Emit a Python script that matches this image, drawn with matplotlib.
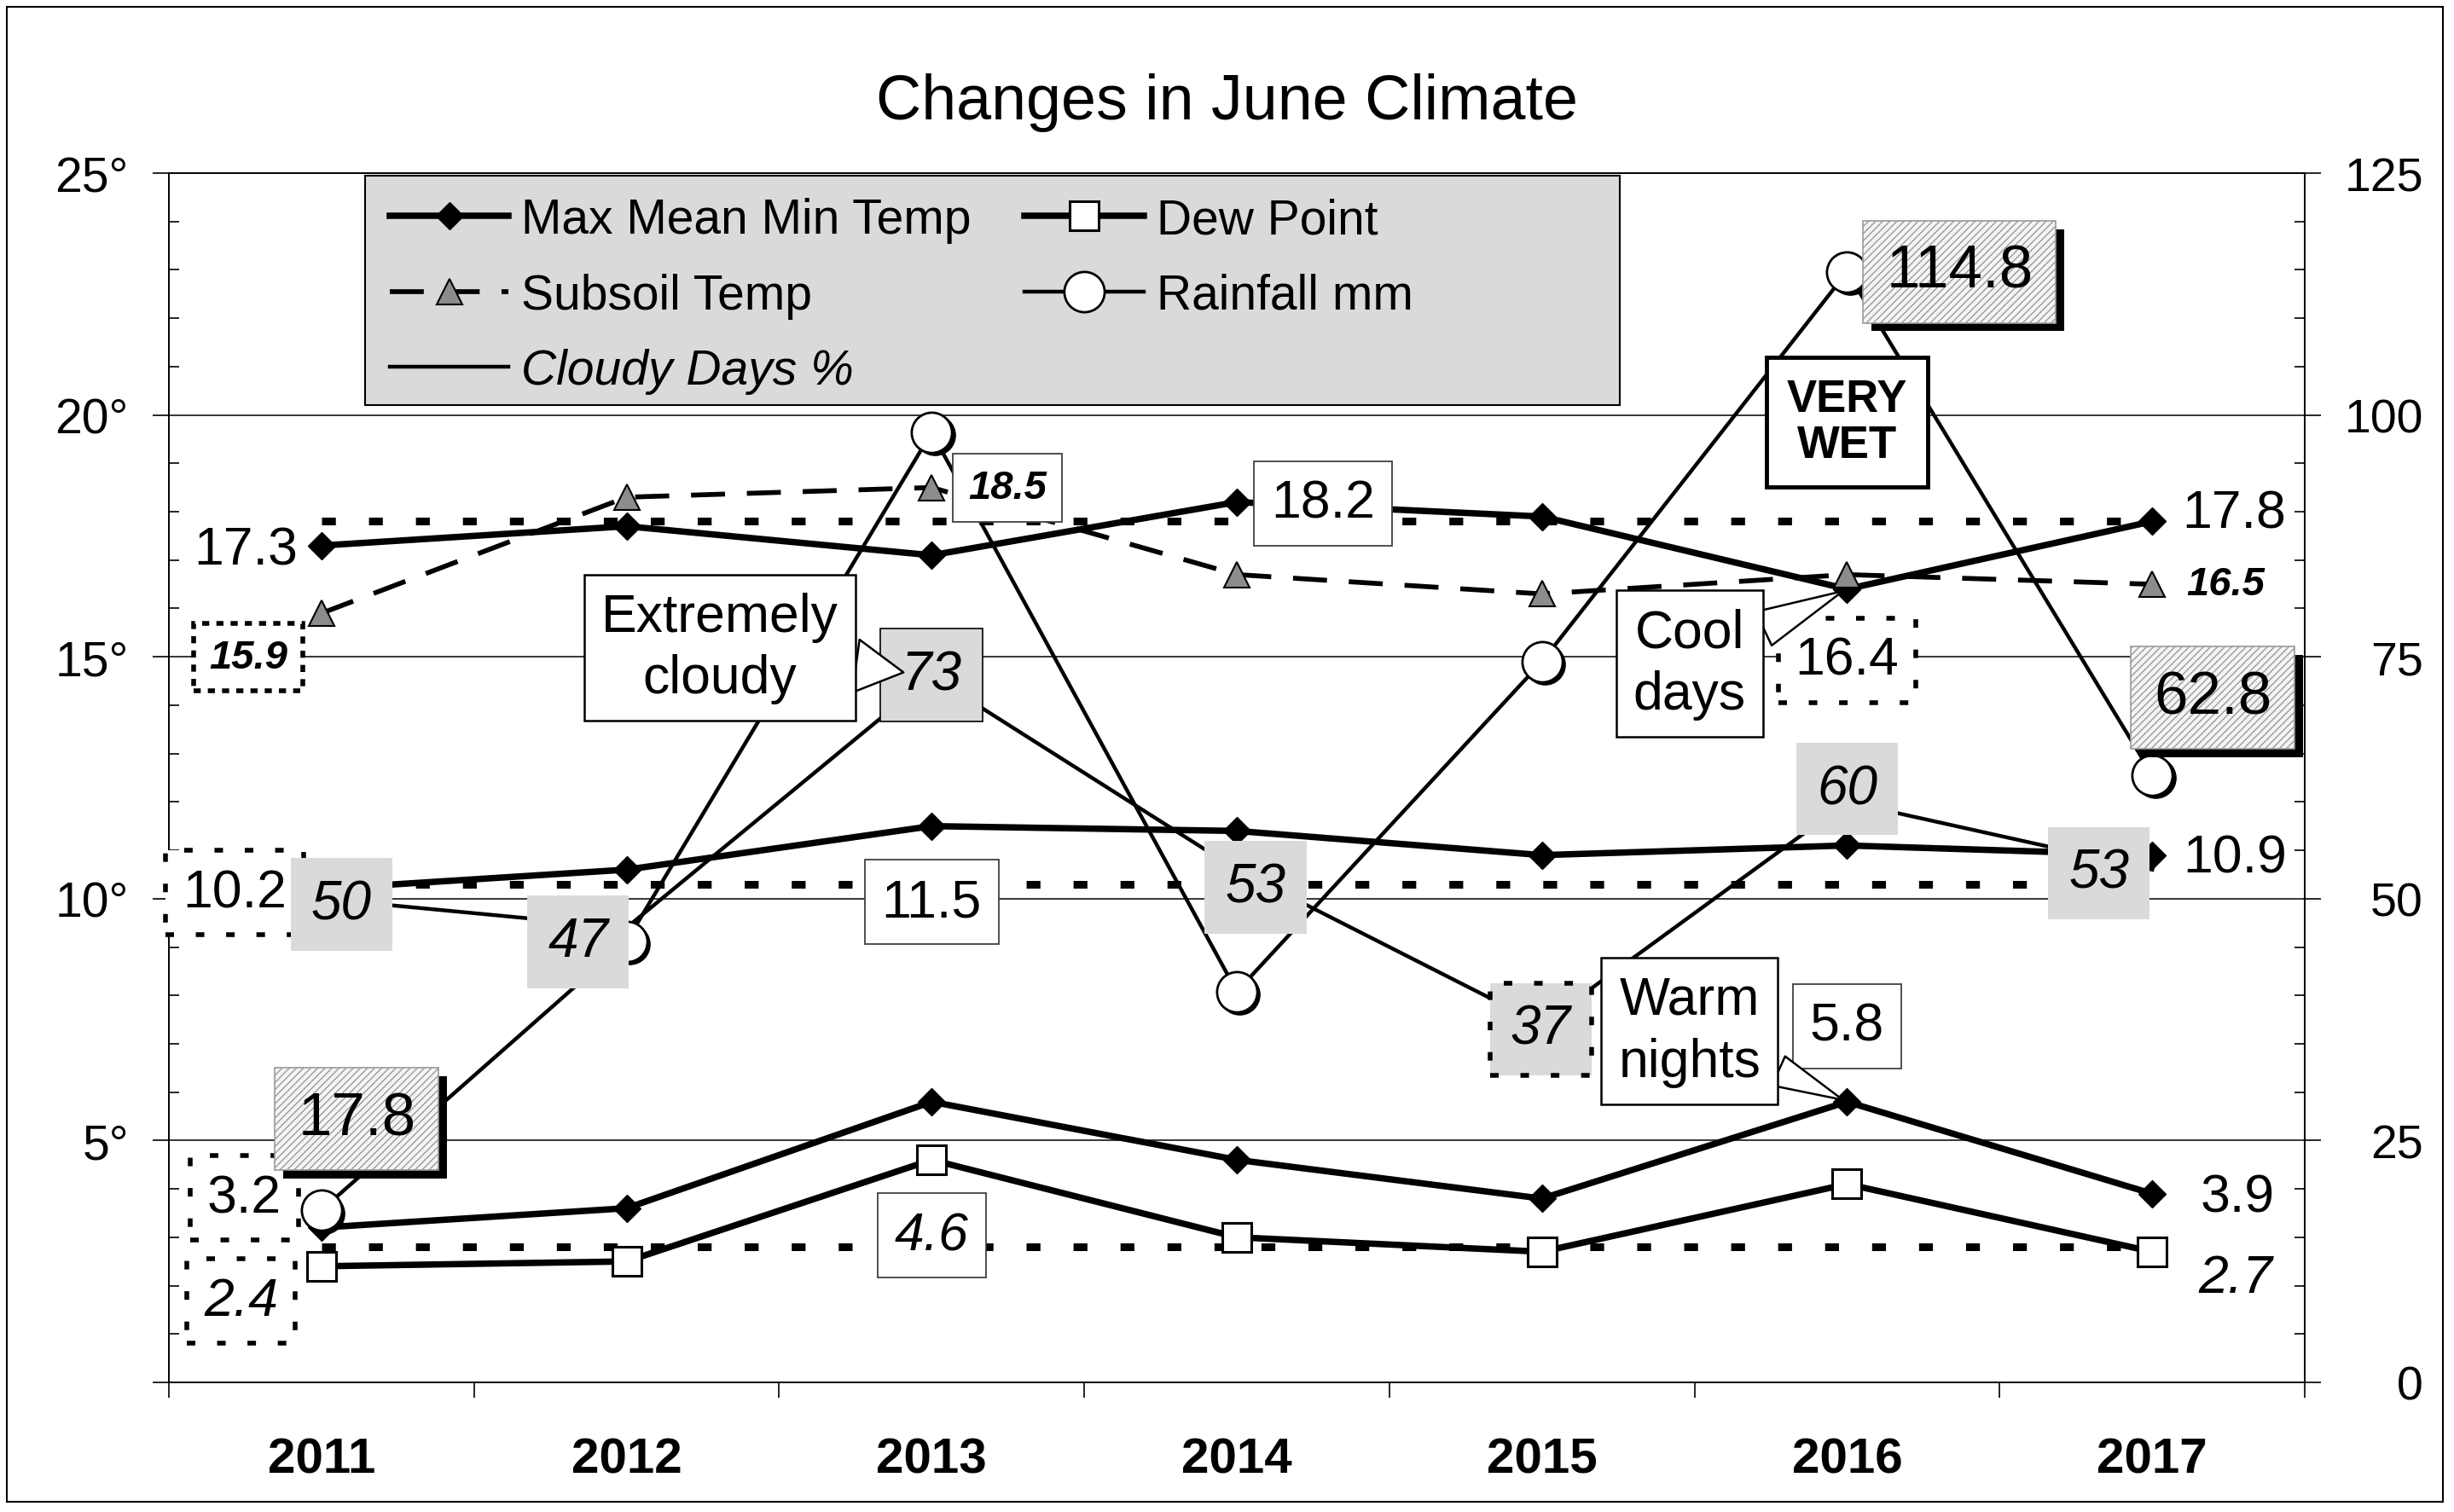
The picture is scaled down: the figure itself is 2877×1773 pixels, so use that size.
import numpy as np
import matplotlib.pyplot as plt
import matplotlib.patheffects as pe
from matplotlib.patches import Rectangle
from matplotlib.ticker import MultipleLocator
from matplotlib.transforms import ScaledTranslation

plt.rcParams['font.family'] = ['Liberation Sans', 'DejaVu Sans']

years = ['2011', '2012', '2013', '2014', '2015', '2016', '2017']
max_temp = [17.3, 17.7, 17.1, 18.2, 17.9, 16.4, 17.8]
mean_temp = [10.2, 10.6, 11.5, 11.4, 10.9, 11.1, 10.9]
min_temp = [3.2, 3.6, 5.8, 4.6, 3.8, 5.8, 3.9]
dew_point = [2.4, 2.5, 4.6, 3.0, 2.7, 4.1, 2.7]
subsoil_temp = [15.9, 18.3, 18.5, 16.7, 16.3, 16.7, 16.5]
rainfall = [17.8, 45.6, 98.2, 40.4, 74.5, 114.8, 62.8]
cloudy_days = [50, 47, 73, 53, 37, 60, 53]

# long term June averages, drawn as dotted lines
normal_max = 17.8
normal_mean = 10.3
normal_dew = 2.8

temp_ticks = [0, 5, 10, 15, 20, 25]
temp_tick_labels = ['', '5°', '10°', '15°', '20°', '25°']
rain_ticks = [0, 25, 50, 75, 100, 125]
rain_tick_labels = ['0', '25', '50', '75', '100', '125']

legend_labels = ['Max Mean Min Temp', 'Subsoil Temp', 'Cloudy Days %', 'Dew Point', 'Rainfall mm']

fig = plt.figure(figsize=(28.77, 17.74), dpi=100)
ax = fig.add_axes([0.0688, 0.0857, 0.9392 - 0.0688, 0.885 - 0.0857])
ax2 = ax.twinx()
x = np.arange(len(years))

# temperature series (left axis)
for vals in (normal_max, normal_mean, normal_dew):
    ax.plot(x, [vals] * len(x), color='black', lw=6.5, ls=(0, (1.8, 4.3)),
            dash_capstyle='butt', zorder=3)

h_max = None
for vals in (max_temp, mean_temp, min_temp):
    line, = ax.plot(x, vals, color='black', lw=5.4, marker='D', ms=16,
                    mfc='black', mec='black', zorder=4)
    if h_max is None:
        h_max = line

h_dew, = ax.plot(x, dew_point, color='black', lw=5.4, marker='s', ms=25,
                 mfc='white', mec='black', mew=2.2, zorder=4)
h_sub, = ax.plot(x, subsoil_temp, color='black', lw=4.1, ls=(0, (7, 4.5)),
                 marker='^', ms=22, mfc='#8c8c8c', mec='black', mew=1.5, zorder=4)

# rainfall and cloudy days (right axis)
h_cloud, = ax2.plot(x, cloudy_days, color='black', lw=3.2, zorder=4)
shadow = ax2.transData + ScaledTranslation(2.5 / 72, -2.5 / 72, fig.dpi_scale_trans)
ax2.plot(x, rainfall, ls='none', marker='o', ms=34, mfc='black', mec='black',
         transform=shadow, zorder=5)
h_rain, = ax2.plot(x, rainfall, color='black', lw=3.2, marker='o', ms=34,
                   mfc='white', mec='black', mew=2, zorder=6)

# axes
ax.set_xlim(-0.5, len(years) - 0.5)
ax.set_ylim(0, 25)
ax2.set_ylim(0, 125)
ax.set_xticks(np.arange(-0.5, len(years), 1))
ax.set_xticklabels([''] * (len(years) + 1))
ax.set_xticks(x, minor=True)
ax.set_xticklabels(years, minor=True, fontsize=42, fontweight='bold')
ax.tick_params(axis='x', which='major', direction='out', length=13, width=1.2)
ax.tick_params(axis='x', which='minor', length=0, pad=46)

ax.set_yticks(temp_ticks)
ax.set_yticklabels(temp_tick_labels, fontsize=41)
ax.yaxis.set_minor_locator(MultipleLocator(1))
ax.tick_params(axis='y', which='major', direction='out', length=14, width=1.2, pad=20)
ax.tick_params(axis='y', which='minor', direction='in', length=8.6, width=1.2)

ax2.set_yticks(rain_ticks)
ax2.set_yticklabels(rain_tick_labels, fontsize=40)
ax2.yaxis.set_minor_locator(MultipleLocator(5))
ax2.tick_params(axis='y', which='major', direction='out', length=14, width=1.2, pad=86)
ax2.tick_params(axis='y', which='minor', direction='in', length=8.6, width=1.2)
for t in ax2.get_yticklabels():
    t.set_horizontalalignment('right')

ax.yaxis.grid(True, which='major', color='black', lw=1.1)
ax.set_axisbelow(True)
for a in (ax, ax2):
    for s in a.spines.values():
        s.set_linewidth(1.2)

# data labels
white_box = dict(boxstyle='square,pad=0.32', fc='white', ec='#404040', lw=1.3)
dotted_box = dict(boxstyle='square,pad=0.32', fc='white', ec='black', lw=4, ls=(0, (1.8, 4.6)))
small_box = dict(boxstyle='square,pad=0.38', fc='white', ec='#404040', lw=1.3)
dash_box = dict(boxstyle='square,pad=0.38', fc='white', ec='black', lw=4, ls=(0, (1.5, 1.5)))
gray_box = dict(boxstyle='square,pad=0.38', fc='#dadada', ec='none')
gray_edge_box = dict(boxstyle='square,pad=0.38', fc='#dadada', ec='black', lw=1.2)
gray_dot_box = dict(boxstyle='square,pad=0.38', fc='#dadada', ec='black', lw=4, ls=(0, (1.8, 4.6)))


def label(trans, i, value, dx, dy, size=45, weight='normal', style='normal', box=None):
    ax2.annotate(f'{value:g}', xy=(i, value), xycoords=trans, xytext=(dx, dy),
                 textcoords='offset points', ha='center', va='center', fontsize=size,
                 fontweight=weight, fontstyle=style, bbox=box, zorder=8)


def rain_label(i, dx, dy):
    value = rainfall[i]
    ann = ax2.annotate(f'{value:g}', xy=(i, value), xytext=(dx, dy),
                       textcoords='offset points', ha='center', va='center', fontsize=51,
                       bbox=dict(boxstyle='square,pad=0.38', fc='#f4f4f4', ec='#9a9a9a',
                                 hatch='////', lw=1.2),
                       zorder=8)
    # solid black drop shadow behind the hatched box
    ann.get_bbox_patch().set_path_effects([
        pe.SimplePatchShadow(offset=(7, -7), shadow_rgbFace='black', alpha=1.0, hatch=None),
        pe.Normal()])


def callout(trans, i, value, text, dx, dy, tail, shrink):
    ax2.annotate(text, xy=(i, value), xycoords=trans, xytext=(dx, dy),
                 textcoords='offset points', ha='center', va='center', fontsize=45,
                 linespacing=1.3,
                 bbox=dict(boxstyle='square,pad=0.32', fc='white', ec='black', lw=1.8),
                 arrowprops=dict(arrowstyle=f'wedge,tail_width={tail},shrink_factor=0.5',
                                 fc='white', ec='black', lw=1.8, shrinkA=0, shrinkB=shrink),
                 zorder=9)


t1 = ax.transData
t2 = ax2.transData

label(t1, 0, max_temp[0], -64, -4)
label(t1, 3, max_temp[3], 73, -1, box=white_box)
label(t1, 5, max_temp[5], 0, -60, box=dotted_box)
label(t1, 6, max_temp[6], 69, 7)

label(t1, 0, mean_temp[0], -73, -3, box=dotted_box)
label(t1, 2, mean_temp[2], 0, -64, box=white_box)
label(t1, 6, mean_temp[6], 70, -2)

label(t1, 0, min_temp[0], -65, 25, box=dotted_box)
label(t1, 5, min_temp[5], 0, 64, box=white_box)
label(t1, 6, min_temp[6], 72, -3)

label(t1, 0, dew_point[0], -68, -29, style='italic', box=dotted_box)
label(t1, 2, dew_point[2], 0, -64, style='italic', box=white_box)
label(t1, 6, dew_point[6], 70, -22, style='italic')

label(t1, 0, subsoil_temp[0], -62, -37, size=34, weight='bold', style='italic', box=dash_box)
label(t1, 2, subsoil_temp[2], 64, 0, size=34, weight='bold', style='italic', box=small_box)
label(t1, 6, subsoil_temp[6], 62, 0, size=34, weight='bold', style='italic')

cloud_offsets = [(17, -5), (-41, -12), (0, 1), (16, -15), (-1, -4), (0, 11), (-45, -3)]
cloud_boxes = [gray_box, gray_box, gray_edge_box, gray_box, gray_dot_box, gray_box, gray_box]
for i, (dx, dy) in enumerate(cloud_offsets):
    label(t2, i, cloudy_days[i], dx, dy, size=46, style='italic', box=cloud_boxes[i])

rain_label(0, 30, 77)
rain_label(5, 95, 0)
rain_label(6, 51, 65)

callout(t2, 2, cloudy_days[2], 'Extremely\ncloudy', -179, 24, 1.0, 24)
callout(t1, 5, max_temp[5], 'Cool\ndays', -133, -63, 0.7, 4)
callout(t1, 5, min_temp[5], 'Warm\nnights', -133, 60, 0.6, 4)
ax2.annotate('VERY\nWET', xy=(5, rainfall[5]), xytext=(0, -127), textcoords='offset points',
             ha='center', va='center', fontsize=38, fontweight='bold', linespacing=1.1,
             bbox=dict(boxstyle='square,pad=0.45', fc='white', ec='black', lw=3.5), zorder=9)

# legend in a gray panel
fig.patches.append(Rectangle((0.1488, 0.7317), 0.5112, 0.1516, transform=fig.transFigure,
                             fc='#dadada', ec='black', lw=1.5, zorder=4))
leg = fig.legend([h_max, h_sub, h_cloud, h_dew, h_rain], legend_labels, ncol=2,
                 loc='upper left', bbox_to_anchor=(0.1588, 0.869), frameon=False,
                 fontsize=41, handlelength=2.45, handletextpad=0.26, columnspacing=1.1,
                 labelspacing=0.6, borderpad=0, borderaxespad=0)
leg.set_zorder(5)
leg.get_texts()[2].set_fontstyle('italic')

fig.text(0.5, 0.921, 'Changes in June Climate', ha='center', va='baseline', fontsize=53)

# outer chart border
fig.patches.append(Rectangle((8 / 2877, 12 / 1774), 2856 / 2877, 1753 / 1774,
                             transform=fig.transFigure, fill=False, ec='black', lw=1.5))

fig.savefig('out.png', dpi=100)
